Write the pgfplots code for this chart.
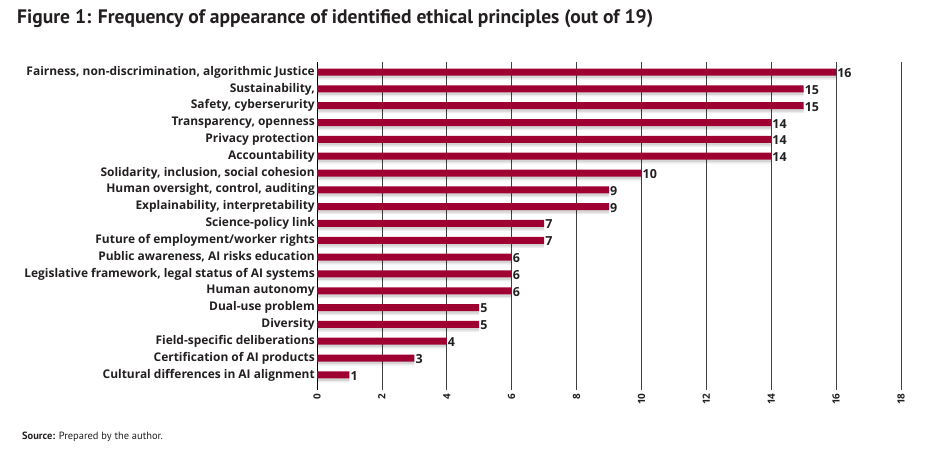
\documentclass[border=0pt]{standalone}
\usepackage{pgfplots}
\pgfplotsset{compat=1.18}
\usepackage{fontspec}
\setmainfont{Open Sans}
\newfontfamily\titlefont{PT Sans}
\definecolor{barred}{RGB}{158,0,50}
\definecolor{ink}{RGB}{35,31,32}

\pgfplotstableread{
val pos
16 0
15 1
15 2
14 3
14 4
14 5
10 6
9 7
9 8
7 9
7 10
6 11
6 12
6 13
5 14
5 15
4 16
3 17
1 18
}\principles

\begin{document}
\begin{tikzpicture}
\path[use as bounding box] (0bp,0bp) rectangle (929bp,467bp);
\node[anchor=west, text=ink, font=\titlefont\fontsize{19.6}{22}\selectfont\bfseries, inner sep=0] at (17bp,448bp)
  {Figure 1: Frequency of appearance of identified ethical principles (out of 19)};
\node[anchor=west, text=ink, font=\titlefont\fontsize{10.5}{12}\selectfont, inner sep=0] at (22bp,30bp)
  {\textbf{Source:} Prepared by the author.};
\begin{axis}[
    at={(317bp,77bp)}, anchor=south west,
    scale only axis,
    width=584bp, height=328bp,
    xmin=0, xmax=18,
    ymin=-0.6, ymax=18.9,
    y dir=reverse,
    xtick={0,2,...,18},
    ytick={0,...,18},
    yticklabels={
      {Fairness, non-discrimination, algorithmic Justice},
      {Sustainability,},
      {Safety, cyberserurity},
      {Transparency, openness},
      {Privacy protection},
      {Accountability},
      {Solidarity, inclusion, social cohesion},
      {Human oversight, control, auditing},
      {Explainability, interpretability},
      {Science-policy link},
      {Future of employment/worker rights},
      {Public awareness, AI risks education},
      {Legislative framework, legal status of AI systems},
      {Human autonomy},
      {Dual-use problem},
      {Diversity},
      {Field-specific deliberations},
      {Certification of AI products},
      {Cultural differences in AI alignment}},
    axis lines*=left,
    x axis line style={draw=none},
    y axis line style={draw=black, line width=1bp},
    major tick length=0pt,
    xmajorgrids,
    grid style={draw=black!75, line width=0.7bp},
    xticklabel style={rotate=90, anchor=east, font=\fontsize{10}{11}\selectfont\bfseries, text=ink},
    yticklabel style={font=\fontsize{12}{13}\selectfont\bfseries, text=ink, inner sep=2bp},
    /pgf/number format/assume math mode=true,
    clip=false,
]
% soft shadow under the bars
\addplot[xbar, bar width=9bp, bar shift=-3bp, fill=black, fill opacity=0.07, draw=none, forget plot]
  table[x=val, y=pos] {\principles};
\addplot[xbar, bar width=6bp, bar shift=-3bp, fill=black, fill opacity=0.10, draw=none, forget plot]
  table[x=val, y=pos] {\principles};
\addplot[xbar, bar width=7bp, fill=barred, draw=none,
    nodes near coords,
    nodes near coords style={font=\fontsize{12.5}{14}\selectfont\bfseries, text=ink, anchor=west, inner sep=1bp, yshift=-1bp}]
  table[x=val, y=pos] {\principles};
\end{axis}
\end{tikzpicture}
\end{document}
